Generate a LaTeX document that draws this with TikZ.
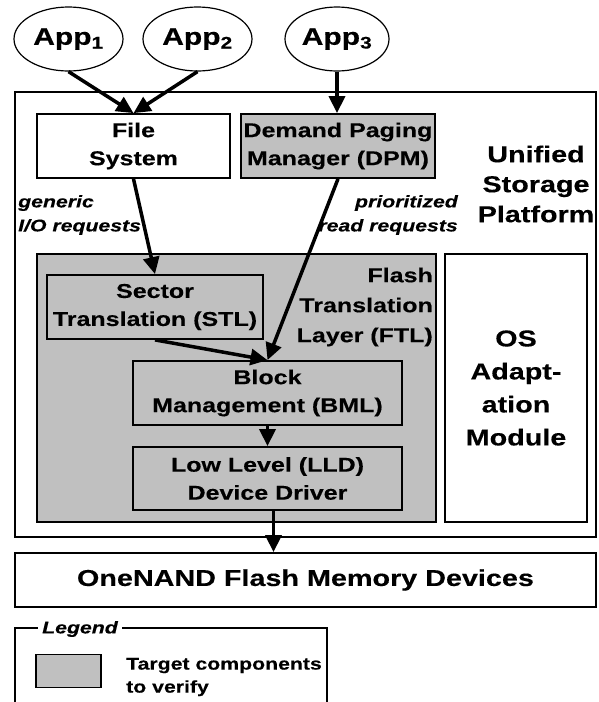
\documentclass[tikz,border=0pt]{standalone}
\usepackage{fontspec}
\setmainfont[FakeStretch=1.25,BoldFeatures={FakeBold=0.3},BoldItalicFeatures={FakeBold=0.3}]{Liberation Sans}
\usetikzlibrary{shapes.geometric,arrows.meta}
\definecolor{compgray}{RGB}{192,192,192}
\begin{document}
\begin{tikzpicture}[x=1pt,y=-1pt,
  app/.style={ellipse,draw,line width=1.2pt,minimum width=109pt,minimum height=64pt,inner sep=0pt,font=\fontsize{24}{28}\selectfont\bfseries},
  box/.style={rectangle,draw,line width=1.8pt,inner sep=0pt,align=center,font=\fontsize{20}{28}\selectfont\bfseries},
  compbox/.style={box,fill=compgray},
  arr/.style={line width=3.5pt,-{Triangle[length=17pt,width=16pt]}},
  lbl/.style={font=\fontsize{17}{24}\selectfont\bfseries\itshape,inner sep=0pt},
  bigtxt/.style={font=\fontsize{23}{30}\selectfont\bfseries,align=center,inner sep=0pt},
]
\useasboundingbox (0,0) rectangle (598,702);
% applications
\node[app] (app1) at (68.5,39) {App\textsubscript{1}};
\node[app] (app2) at (197.5,39) {App\textsubscript{2}};
\node[app,minimum width=104pt] (app3) at (337,39) {App\textsubscript{3}};
% unified storage platform
\node[box,minimum width=581pt,minimum height=445pt] (usp) at (305.5,314.5) {};
\node[bigtxt] (usptext) at (536,184) {Unified\\Storage\\Platform};
\node[box,minimum width=193pt,minimum height=64pt] (fs) at (133.5,146) {File\\System};
\node[compbox,minimum width=194pt,minimum height=64pt] (dpm) at (338,146) {Demand Paging\\Manager (DPM)};
\node[lbl,align=left,anchor=west] (gen) at (18,215) {generic\\I/O requests};
\node[lbl,align=right,anchor=east] (pri) at (458,215) {prioritized\\read requests};
% FTL
\node[compbox,minimum width=399pt,minimum height=268pt] (ftl) at (236.5,388) {};
\node[font=\fontsize{20}{30}\selectfont\bfseries,align=right,anchor=east,inner sep=0pt] (ftltext) at (433,307) {Flash\\Translation\\Layer (FTL)};
\node[compbox,minimum width=216pt,minimum height=64pt] (stl) at (155,307) {Sector\\Translation (STL)};
\node[compbox,minimum width=269pt,minimum height=64pt] (bml) at (267.5,393) {Block\\Management (BML)};
\node[compbox,minimum width=269pt,minimum height=63pt] (lld) at (267.5,478.5) {Low Level (LLD)\\Device Driver};
% OS adaptation
\node[box,minimum width=142pt,minimum height=268pt,font=\fontsize{23}{33}\selectfont\bfseries] (os) at (516,388) {OS\\Adapt-\\ation\\Module};
% devices
\node[box,minimum width=581pt,minimum height=54pt,font=\fontsize{23}{28}\selectfont\bfseries] (dev) at (305.5,580) {OneNAND Flash Memory Devices};
% arrows
\draw[arr] (app1.south) -- (fs.north);
\draw[arr] (app2.south) -- (fs.north);
\draw[arr] (app3.south) -- (app3.south |- dpm.north);
\draw[arr] (fs.south) -- (stl.north);
\draw[arr] (dpm.south) -- (bml.north);
\draw[arr] (stl.south) -- (bml.north);
\draw[arr] (bml.south) -- (lld.north);
\draw[arr] ([xshift=6pt]lld.south) -- ([xshift=6pt]lld.south |- dev.north);
% legend
\draw[line width=1.8pt] (15,702) -- (15,628) -- (327,628) -- (327,702);
\node[fill=white,inner xsep=4pt,inner ysep=2pt,anchor=west,font=\fontsize{17}{24}\selectfont\bfseries\itshape] (leg) at (38,629) {Legend};
\node[compbox,minimum width=65pt,minimum height=33pt] (sw) at (68.5,671) {};
\node[font=\fontsize{17}{23}\selectfont\bfseries,align=left,anchor=west,inner sep=0pt] (tgt) at (126,677) {Target components\\to verify};
\end{tikzpicture}
\end{document}
